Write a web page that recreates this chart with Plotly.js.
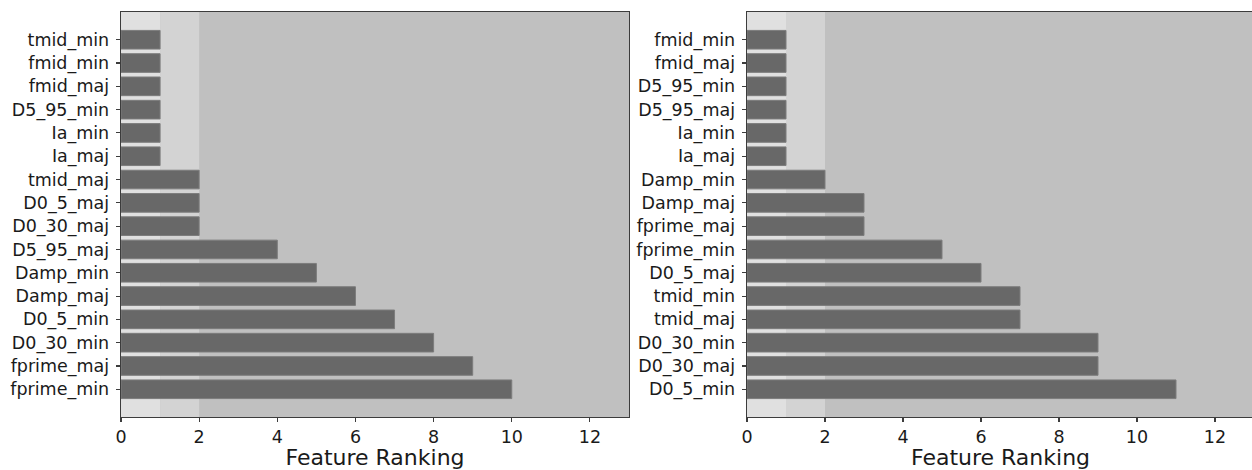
<!DOCTYPE html>
<html>
<head>
<meta charset="utf-8">
<script src="https://cdn.plot.ly/plotly-3.0.1.min.js"></script>
<style>
html,body{margin:0;padding:0;overflow:hidden;background:#fff;}
#chart{width:1256px;height:470px;}
</style>
</head>
<body>
<div id="chart"></div>
<script>
// Left panel (top to bottom)
const leftFeatures = ["tmid_min","fmid_min","fmid_maj","D5_95_min","Ia_min","Ia_maj","tmid_maj","D0_5_maj","D0_30_maj","D5_95_maj","Damp_min","Damp_maj","D0_5_min","D0_30_min","fprime_maj","fprime_min"];
const leftRanks = [1,1,1,1,1,1,2,2,2,4,5,6,7,8,9,10];
// Right panel (top to bottom)
const rightFeatures = ["fmid_min","fmid_maj","D5_95_min","D5_95_maj","Ia_min","Ia_maj","Damp_min","Damp_maj","fprime_maj","fprime_min","D0_5_maj","tmid_min","tmid_maj","D0_30_min","D0_30_maj","D0_5_min"];
const rightRanks = [1,1,1,1,1,1,2,3,3,5,6,7,7,9,9,11];
const xTicks = [0,2,4,6,8,10,12];
const xLabel = "Feature Ranking";

const W = 1256, H = 470;
const barStyle = {color:"#686868", line:{color:"#7c7c7c", width:1}};

const traces = [
  {type:"bar", orientation:"h", x:leftRanks, y:leftFeatures, xaxis:"x", yaxis:"y", width:0.8, marker:barStyle, hoverinfo:"x+y"},
  {type:"bar", orientation:"h", x:rightRanks, y:rightFeatures, xaxis:"x2", yaxis:"y2", width:0.8, marker:barStyle, hoverinfo:"x+y"}
];

const font = {family:"DejaVu Sans, sans-serif", size:17.5, color:"#1a1a1a"};
const axisLine = {showline:true, linecolor:"#3c3c3c", linewidth:1.3, mirror:true, ticks:"outside", ticklen:4, tickwidth:1.1, tickcolor:"#3c3c3c", showgrid:false, zeroline:false};

function xa(domain, anchor){
  return Object.assign({}, axisLine, {domain:domain, anchor:anchor, range:[0,13], tickvals:xTicks, ticktext:xTicks.map(String), tickfont:font, title:{text:xLabel, font:{family:font.family, size:22, color:"#1a1a1a"}, standoff:4}});
}
function ya(domain, anchor, n){
  return Object.assign({}, axisLine, {domain:domain, anchor:anchor, type:"category", range:[n-1+1.19, -1.19], tickfont:font, ticklabelstandoff:3});
}
const yd = [(H-417)/H, (H-12)/H];

function bands(xr, yr){
  return [
    {type:"rect", xref:xr, yref:yr+" domain", x0:0, x1:1, y0:0, y1:1, fillcolor:"#e0e0e0", line:{width:0}, layer:"below"},
    {type:"rect", xref:xr, yref:yr+" domain", x0:1, x1:2, y0:0, y1:1, fillcolor:"#d3d3d3", line:{width:0}, layer:"below"}
  ];
}

const layout = {
  width:W, height:H,
  margin:{l:0,r:0,t:0,b:0},
  paper_bgcolor:"#ffffff", plot_bgcolor:"#c0c0c0",
  showlegend:false,
  font:font,
  xaxis: xa([121/W, 629/W], "y"),
  yaxis: ya(yd, "x", leftFeatures.length),
  xaxis2: xa([747/W, 1254/W], "y2"),
  yaxis2: ya(yd, "x2", rightFeatures.length),
  shapes: bands("x","y").concat(bands("x2","y2"))
};

Plotly.newPlot("chart", traces, layout, {displayModeBar:false, staticPlot:true});
</script>
</body>
</html>
